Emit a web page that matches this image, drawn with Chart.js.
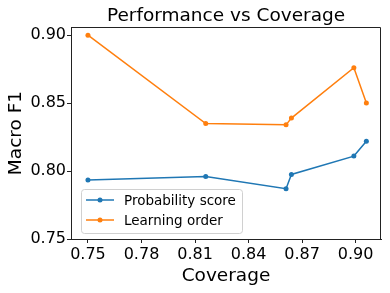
<!DOCTYPE html>
<html>
<head>
<meta charset="utf-8">
<script src="https://cdn.jsdelivr.net/npm/chart.js@4.4.1/dist/chart.umd.min.js"></script>
<style>
  html, body { margin: 0; padding: 0; background: #fff; }
  #wrap { width: 390px; height: 293px; }
</style>
</head>
<body>
<div id="wrap"><canvas id="chart" width="390" height="293"></canvas></div>
<script>
// Data
const coverage = [0.750, 0.816, 0.861, 0.864, 0.899, 0.906];
const probabilityScore = [0.7935, 0.796, 0.787, 0.7975, 0.811, 0.822];
const learningOrder = [0.900, 0.835, 0.834, 0.839, 0.876, 0.850];
const xTicks = [0.75, 0.78, 0.81, 0.84, 0.87, 0.90];
const yTicks = [0.75, 0.80, 0.85, 0.90];

const FONT = "'DejaVu Sans', sans-serif";
const BLUE = "#1f77b4";
const ORANGE = "#ff7f0e";

const toPoints = (ys) => coverage.map((x, i) => ({ x: x, y: ys[i] }));

// top/right spines + legend box inside plot
const framePlugin = {
  id: "frame",
  afterDraw(chart) {
    const { ctx, chartArea: a } = chart;
    ctx.save();
    ctx.strokeStyle = "#222";
    ctx.lineWidth = 1;
    ctx.beginPath();
    ctx.moveTo(a.left, a.top + 0.5);
    ctx.lineTo(a.right - 0.5, a.top + 0.5);
    ctx.lineTo(a.right - 0.5, a.bottom);
    ctx.stroke();

    // legend
    const bx = 81, by = 189, bw = 161, bh = 44;
    ctx.fillStyle = "rgba(255,255,255,0.8)";
    ctx.strokeStyle = "#d0d0d0";
    ctx.beginPath();
    ctx.roundRect(bx + 0.5, by + 0.5, bw, bh, 3);
    ctx.fill();
    ctx.stroke();
    const items = [
      { label: "Probability score", color: BLUE },
      { label: "Learning order", color: ORANGE },
    ];
    ctx.font = "13.5px " + FONT;
    ctx.textBaseline = "middle";
    items.forEach((it, i) => {
      const y = 200 + i * 20;
      ctx.strokeStyle = it.color;
      ctx.lineWidth = 1.5;
      ctx.beginPath();
      ctx.moveTo(86, y);
      ctx.lineTo(114, y);
      ctx.stroke();
      ctx.fillStyle = it.color;
      ctx.beginPath();
      ctx.arc(100, y, 2.5, 0, Math.PI * 2);
      ctx.fill();
      ctx.fillStyle = "#000";
      ctx.fillText(it.label, 124, y + 1);
    });
    ctx.restore();
  },
};

new Chart(document.getElementById("chart"), {
  type: "line",
  data: {
    datasets: [
      {
        label: "Probability score",
        data: toPoints(probabilityScore),
        borderColor: BLUE,
        backgroundColor: BLUE,
        borderWidth: 1.5,
        pointRadius: 2.5,
        pointBorderWidth: 0,
        tension: 0,
      },
      {
        label: "Learning order",
        data: toPoints(learningOrder),
        borderColor: ORANGE,
        backgroundColor: ORANGE,
        borderWidth: 1.5,
        pointRadius: 2.5,
        pointBorderWidth: 0,
        tension: 0,
      },
    ],
  },
  options: {
    responsive: false,
    animation: false,
    layout: { padding: { top: 0, right: 9, bottom: 0, left: 0 } },
    plugins: {
      legend: { display: false },
      tooltip: { enabled: false },
      title: {
        display: true,
        fullSize: false,
        text: "Performance vs Coverage",
        color: "#000",
        font: { family: FONT, size: 18.5, weight: "normal" },
        padding: { top: 4.8, bottom: 0 },
      },
    },
    scales: {
      x: {
        type: "linear",
        min: 0.7405,
        max: 0.9142,
        afterBuildTicks: (s) => { s.ticks = xTicks.map((v) => ({ value: v })); },
        afterFit: (s) => { s.height = 54; },
        grid: { drawOnChartArea: false, drawTicks: true, tickLength: 4, color: "#222" },
        border: { display: true, color: "#222", width: 1 },
        ticks: {
          color: "#000",
          padding: 2,
          maxRotation: 0,
          font: { family: FONT, size: 16 },
          callback: (v) => v.toFixed(2),
        },
        title: {
          display: true,
          text: "Coverage",
          color: "#000",
          font: { family: FONT, size: 18.5 },
          padding: { top: 0, bottom: 6 },
        },
      },
      y: {
        min: 0.75,
        max: 0.906,
        afterBuildTicks: (s) => { s.ticks = yTicks.map((v) => ({ value: v })); },
        afterFit: (s) => { s.width = 71; },
        grid: { drawOnChartArea: false, drawTicks: true, tickLength: 4, color: "#222" },
        border: { display: true, color: "#222", width: 1 },
        ticks: {
          color: "#000",
          padding: 1,
          font: { family: FONT, size: 16 },
          callback: (v) => v.toFixed(2),
        },
        title: {
          display: true,
          text: "Macro F1",
          color: "#000",
          font: { family: FONT, size: 18.5 },
          padding: { top: 5, bottom: 0 },
        },
      },
    },
  },
  plugins: [framePlugin],
});
</script>
</body>
</html>
